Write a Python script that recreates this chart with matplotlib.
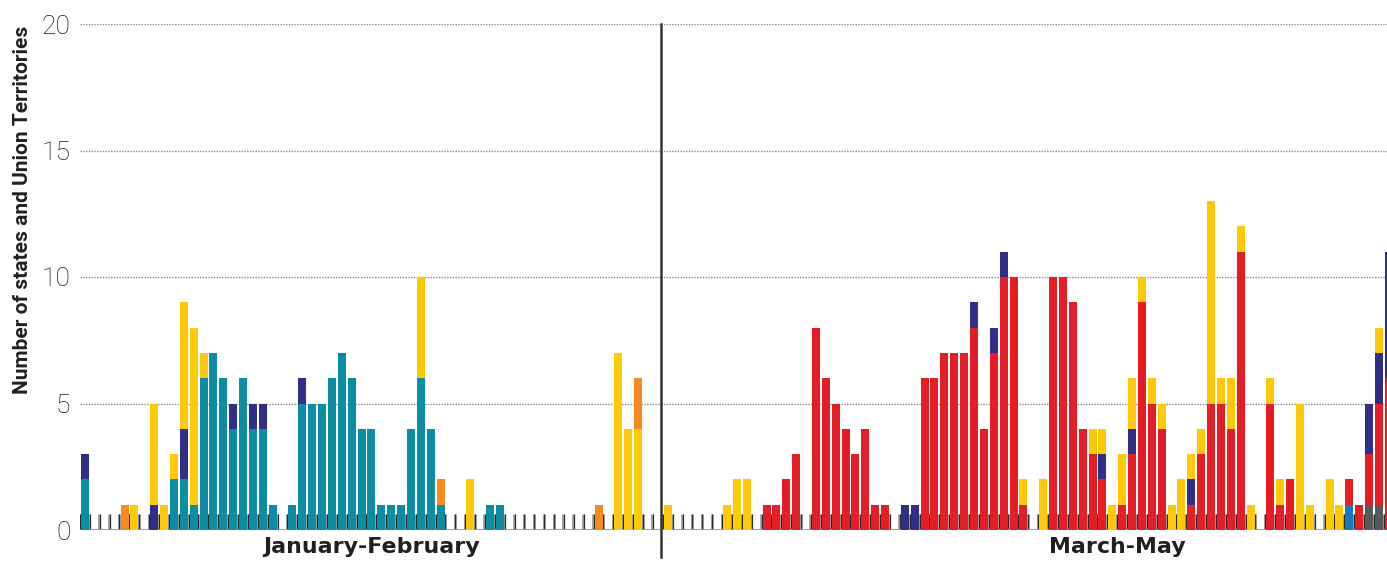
import matplotlib
matplotlib.use("Agg")
import matplotlib.pyplot as plt
import numpy as np
from matplotlib.transforms import blended_transform_factory

# ---- data: one value per day (day 0 = 1 January), stacked series ----
n_days = 133
gray_v = [0]*130 + [1, 1, 0]
blue_v = [0]*128 + [1] + [0]*4
teal_v = [2, 0, 0, 0, 0, 0, 0, 0, 0, 2,
          2, 1, 6, 7, 6, 4, 6, 4, 4, 1,
          0, 1, 5, 5, 5, 6, 7, 6, 4, 4,
          1, 1, 1, 4, 6, 4, 1, 0, 0, 0,
          0, 1, 1] + [0]*90
red_v = [0]*69 + [1, 1, 2, 3, 0, 8, 6, 5, 4, 3, 4, 1, 1, 0, 0, 0,
                  6, 6, 7, 7, 7, 8, 4, 7, 10, 10, 1, 0, 0, 10, 10, 9, 4,
                  3, 2, 0, 1, 3, 9, 5, 4, 0, 0, 1, 3, 5, 5, 4, 11, 0, 0,
                  5, 1, 2, 0, 0, 0, 0, 0, 1, 1, 2, 4, 6]
navy_v = [1, 0, 0, 0, 0, 0, 0, 1, 0, 0,
          2, 0, 0, 0, 0, 1, 0, 1, 1, 0,
          0, 0, 1] + [0]*60 + [1, 1, 0, 0, 0, 0, 0, 1, 0, 1, 1,
          0, 0, 0, 0, 0, 0, 0, 0, 0, 1, 0, 0, 1, 0, 0, 0, 0, 0, 1,
          0, 0, 0, 0, 0, 0, 0, 0, 0, 0, 0, 0, 0, 0, 0, 0, 0, 2, 2, 5]
yellow_v = [0, 0, 0, 0, 0, 1, 0, 4, 1, 1,
            5, 7, 1, 0, 0, 0, 0, 0, 0, 0,
            0, 0, 0, 0, 0, 0, 0, 0, 0, 0,
            0, 0, 0, 0, 4, 0, 0, 0, 0, 2,
            0, 0, 0, 0, 0, 0, 0, 0, 0, 0,
            0, 0, 0, 0, 7, 4, 4, 0, 0, 1,
            0, 0, 0, 0, 0, 1, 2, 2, 0, 0,
            0, 0, 0, 0, 0, 0, 0, 0, 0, 0,
            0, 0, 0, 0, 0, 0, 0, 0, 0, 0,
            0, 0, 0, 0, 0, 1, 0, 2, 0, 0,
            0, 0, 1, 1, 1, 2, 2, 1, 1, 1,
            1, 2, 1, 1, 8, 1, 2, 1, 1, 0,
            1, 1, 0, 5, 1, 0, 2, 1, 0, 0,
            0, 1, 0]
orange_v = [0]*4 + [1] + [0]*31 + [1] + [0]*15 + [1] + [0]*3 + [2] + [0]*76

series = [
    ("gray", gray_v, "#58595B"),
    ("blue", blue_v, "#1479C1"),
    ("teal", teal_v, "#0D8DA3"),
    ("red", red_v, "#E31E26"),
    ("navy", navy_v, "#2F2F87"),
    ("yellow", yellow_v, "#FFC90A"),
    ("orange", orange_v, "#F68B1F"),
]
period_labels = ["January-February", "March-May"]
period_bounds = [(-0.5, 58.5), (58.5, 150.5)]
y_ticks = [0, 5, 10, 15, 20]
y_label = "Number of states and Union Territories"

# ---- figure ----
W, H = 1387, 561
fig = plt.figure(figsize=(W/100, H/100), dpi=100)
ax = fig.add_axes([80/W, 31/H, 1307/W, 506/H])
ax.set_xlim(-0.506, 131.81)
ax.set_ylim(0, 20)

days = np.arange(n_days)
bottom = np.zeros(n_days)
for name, vals, col in series:
    v = np.array(vals, dtype=float)
    assert len(v) == n_days, (name, len(v))
    ax.bar(days, v, width=0.81, bottom=bottom, color=col, linewidth=0, zorder=3)
    bottom += v

# day tick marks along baseline
bounds = np.arange(-0.5, n_days + 0.5, 1.0) - 0.06
ax.vlines(bounds, 0, 0.63, color="#a0a0a0", lw=2.0, zorder=1)
ax.vlines(bounds + 0.05, 0, 0.63, color="#2a2a2a", lw=0.9, zorder=1.5)
ax.axhline(0, color="#9a9a9a", lw=2, zorder=2)

# grid lines
for yv in y_ticks[1:]:
    ax.axhline(yv, color="#8c8c8c", lw=1.0, ls=(0, (1, 1)), zorder=0)

# divider between periods
ax.plot([58.3, 58.3], [1.0, -0.054], color="#333333", lw=1.8,
        transform=blended_transform_factory(ax.transData, ax.transAxes),
        clip_on=False, zorder=5)

for sp in ax.spines.values():
    sp.set_visible(False)
ax.set_xticks([])
ax.set_yticks(y_ticks)
ax.set_yticklabels([str(t) for t in y_ticks], fontfamily="Roboto",
                   fontweight="light", fontsize=19, color="#1a1718")
ax.tick_params(axis="y", length=0, pad=7)

trans = blended_transform_factory(ax.transData, ax.transAxes)
for lab, (a, b) in zip(period_labels, period_bounds):
    ax.text((a + b) / 2, -0.034, lab, transform=trans, ha="center", va="center",
            fontsize=15.9, fontweight="bold", fontfamily="DejaVu Sans",
            color="#231f20", clip_on=False)

fig.text(23/W, 1 - 210/H, y_label, rotation=90, ha="center", va="center",
         fontsize=15, fontweight="bold", fontfamily="Roboto", color="#231f20")

fig.savefig("out.png", dpi=100)
